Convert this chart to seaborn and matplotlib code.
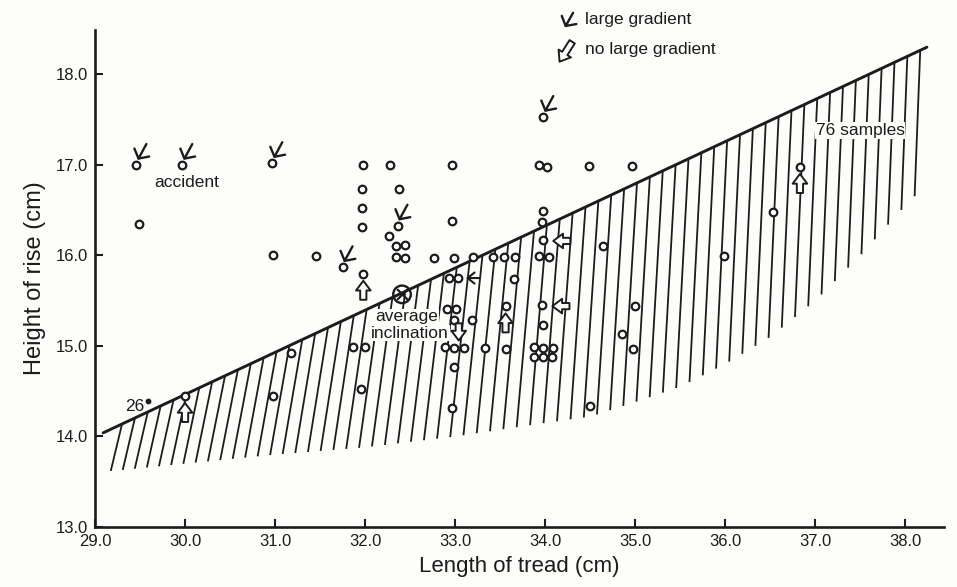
import numpy as np
import pandas as pd
import matplotlib
matplotlib.use("Agg")
import matplotlib.pyplot as plt
import seaborn as sns

# ---------------- data ----------------
tread = [29.46, 29.97, 30.97, 29.49, 30.98, 31.98, 32.28, 31.97, 32.38, 31.97,
         31.97, 32.36, 32.27, 32.34, 32.44, 32.34, 32.44, 31.45, 31.75, 31.98,
         31.87, 32.00, 31.95, 32.97, 33.93, 34.02, 32.97, 33.98, 33.97, 32.76,
         32.99, 33.20, 33.42, 33.54, 33.67, 33.93, 34.04, 33.98, 34.64, 32.93,
         33.03, 33.65, 32.91, 33.01, 32.99, 33.19, 33.56, 33.97, 33.98, 32.89,
         32.99, 33.10, 33.33, 33.57, 33.88, 33.98, 34.09, 33.88, 33.98, 34.08,
         32.99, 32.97, 34.50, 36.53, 35.99, 35.00, 34.85, 34.98, 34.49, 34.97,
         36.83, 33.98, 31.18, 30.98, 30.00]
rise = [17.00, 17.00, 17.02, 16.35, 16.00, 17.00, 17.00, 16.73, 16.73, 16.52,
        16.31, 16.33, 16.21, 16.10, 16.12, 15.98, 15.97, 15.99, 15.87, 15.80,
        14.99, 14.99, 14.52, 17.00, 17.00, 16.98, 16.38, 16.49, 16.37, 15.97,
        15.97, 15.98, 15.98, 15.98, 15.98, 15.99, 15.98, 16.17, 16.10, 15.75,
        15.75, 15.74, 15.41, 15.41, 15.29, 15.29, 15.44, 15.45, 15.23, 14.99,
        14.98, 14.98, 14.98, 14.97, 14.99, 14.98, 14.98, 14.88, 14.88, 14.88,
        14.77, 14.31, 14.34, 16.48, 15.99, 15.44, 15.13, 14.97, 16.99, 16.99,
        16.98, 17.53, 14.92, 14.45, 14.45]

large_gradient_idx = [0, 1, 2, 11, 18, 71]
no_large_gradient = [(19, "up"), (74, "up"), (46, "up"), (70, "up"),
                     (37, "left"), (47, "left"), (50, "down")]
thin_arrow_idx = [40]

line_x = [29.09, 38.24]
line_y = [14.04, 18.30]

hatch_bottom_x = [29.2, 30.0, 31.0, 32.0, 33.0, 34.0, 34.5, 35.0, 35.5, 36.0,
                  36.5, 37.0, 37.5, 38.0, 38.3]
hatch_bottom_y = [13.62, 13.70, 13.80, 13.88, 14.00, 14.15, 14.22, 14.38, 14.55,
                  14.80, 15.10, 15.50, 16.00, 16.55, 16.85]

avg_point = (32.41, 15.57)
point_26 = (29.59, 14.39)

x_ticks = [29.0, 30.0, 31.0, 32.0, 33.0, 34.0, 35.0, 36.0, 37.0, 38.0]
y_ticks = [13.0, 14.0, 15.0, 16.0, 17.0, 18.0]

# ---------------- style ----------------
ink = "#1c1c1c"
bg = "#fdfdfb"
sns.set_theme(style="ticks")
plt.rcParams["font.family"] = ["Liberation Sans", "DejaVu Sans"]

fig = plt.figure(figsize=(9.57, 5.87), dpi=100)
fig.patch.set_facecolor(bg)
ax = fig.add_axes([0.0993, 0.1022, 0.8871, 0.8467])
ax.set_facecolor(bg)

ax.set_xlim(29.0, 38.43)
ax.set_ylim(13.0, 18.49)

# hatch lines below the boundary line
slope = (line_y[1] - line_y[0]) / (line_x[1] - line_x[0])
for xt in np.arange(29.30, 38.21, 0.143):
    yt = line_y[0] + slope * (xt - line_x[0])
    s = np.interp(xt, [29.2, 32.0, 34.5, 36.0, 38.2], [0.25, 0.15, 0.07, 0.05, 0.04])
    yb = np.interp(xt, hatch_bottom_x, hatch_bottom_y)
    xb = xt - s * (yt - yb)
    yb = np.interp(xb, hatch_bottom_x, hatch_bottom_y)
    ax.plot([xt, xb], [yt, yb], color=ink, lw=1.3, solid_capstyle="butt", zorder=1)

# boundary line
sns.lineplot(x=line_x, y=line_y, ax=ax, color=ink, lw=2.1, zorder=2)

# samples
df = pd.DataFrame({"tread": tread, "rise": rise})
sns.scatterplot(data=df, x="tread", y="rise", ax=ax, marker="o", s=30,
                facecolor=bg, edgecolor=ink, linewidth=1.6, zorder=4)

# large-gradient marks
chk = dict(arrowstyle="->,head_length=0.45,head_width=0.55", color=ink, lw=1.7,
           shrinkA=0, shrinkB=0, mutation_scale=11)
for i in large_gradient_idx:
    x, y = tread[i], rise[i]
    ax.annotate("", xy=(x + 0.015, y + 0.055), xytext=(x + 0.11, y + 0.23),
                arrowprops=chk, zorder=5)

# no-large-gradient (open block arrows)
blk = dict(arrowstyle="simple,head_length=0.5,head_width=0.75,tail_width=0.32",
           fc=bg, ec=ink, lw=1.4, shrinkA=0, shrinkB=0, mutation_scale=14)
offs = {"up": ((0.0, -0.08), (0.0, -0.29)),
        "left": ((0.11, -0.01), (0.30, -0.01)),
        "down": ((0.05, 0.08), (0.05, 0.27))}
for i, d in no_large_gradient:
    x, y = tread[i], rise[i]
    (tx, ty), (sx, sy) = offs[d]
    ax.annotate("", xy=(x + tx, y + ty), xytext=(x + sx, y + sy),
                arrowprops=blk, zorder=5)

for i in thin_arrow_idx:
    x, y = tread[i], rise[i]
    ax.annotate("", xy=(x + 0.09, y), xytext=(x + 0.24, y),
                arrowprops=dict(arrowstyle="->,head_length=0.5,head_width=0.4",
                                color=ink, lw=1.5, shrinkA=0, shrinkB=0,
                                mutation_scale=10), zorder=5)

# average inclination marker
ax.scatter([avg_point[0]], [avg_point[1]], s=160, marker="o", facecolor="none",
           edgecolor=ink, linewidth=1.7, zorder=6)
ax.scatter([avg_point[0]], [avg_point[1]], s=60, marker="x", color=ink,
           linewidth=1.6, zorder=6)
ax.scatter([point_26[0]], [point_26[1]], s=10, color=ink, zorder=6)

# texts
tkw = dict(color=ink, fontsize=12.5, zorder=7)
box = dict(facecolor=bg, edgecolor="none", pad=0.5)
ax.text(30.02, 16.80, "accident", ha="center", va="center", **tkw)
ax.text(29.44, 14.33, "26", ha="center", va="center", **tkw)
ax.text(37.50, 17.38, "76 samples", ha="center", va="center", bbox=box, **tkw)
ax.text(32.46, 15.32, "average", ha="center", va="center", bbox=box, **tkw)
ax.text(32.50, 15.14, "inclination", ha="center", va="center", bbox=box, **tkw)

# legend at top
ax.annotate("", xy=(34.22, 18.52), xytext=(34.31, 18.68),
            arrowprops=chk, annotation_clip=False)
ax.text(34.44, 18.61, "large gradient", ha="left", va="center",
        color=ink, fontsize=12.5, clip_on=False)
ax.annotate("", xy=(34.16, 18.14), xytext=(34.30, 18.36),
            arrowprops=blk, annotation_clip=False)
ax.text(34.44, 18.27, "no large gradient", ha="left", va="center",
        color=ink, fontsize=12.5, clip_on=False)

# axes styling
for side in ["top", "right"]:
    ax.spines[side].set_visible(False)
for side in ["left", "bottom"]:
    ax.spines[side].set_linewidth(1.9)
    ax.spines[side].set_color(ink)
ax.set_xticks(x_ticks)
ax.set_xticklabels([f"{v:.1f}" for v in x_ticks])
ax.set_yticks(y_ticks)
ax.set_yticklabels([f"{v:.1f}" for v in y_ticks])
ax.tick_params(direction="in", length=6, width=1.5, colors=ink, labelsize=12,
               labelcolor=ink)
ax.tick_params(axis="x", pad=5)
ax.tick_params(axis="y", pad=5)
ax.set_xlabel("Length of tread (cm)", fontsize=16, color=ink, labelpad=5)
ax.set_ylabel("Height of rise (cm)", fontsize=17, color=ink, labelpad=7)

fig.savefig("out.png", dpi=100, facecolor=bg)
